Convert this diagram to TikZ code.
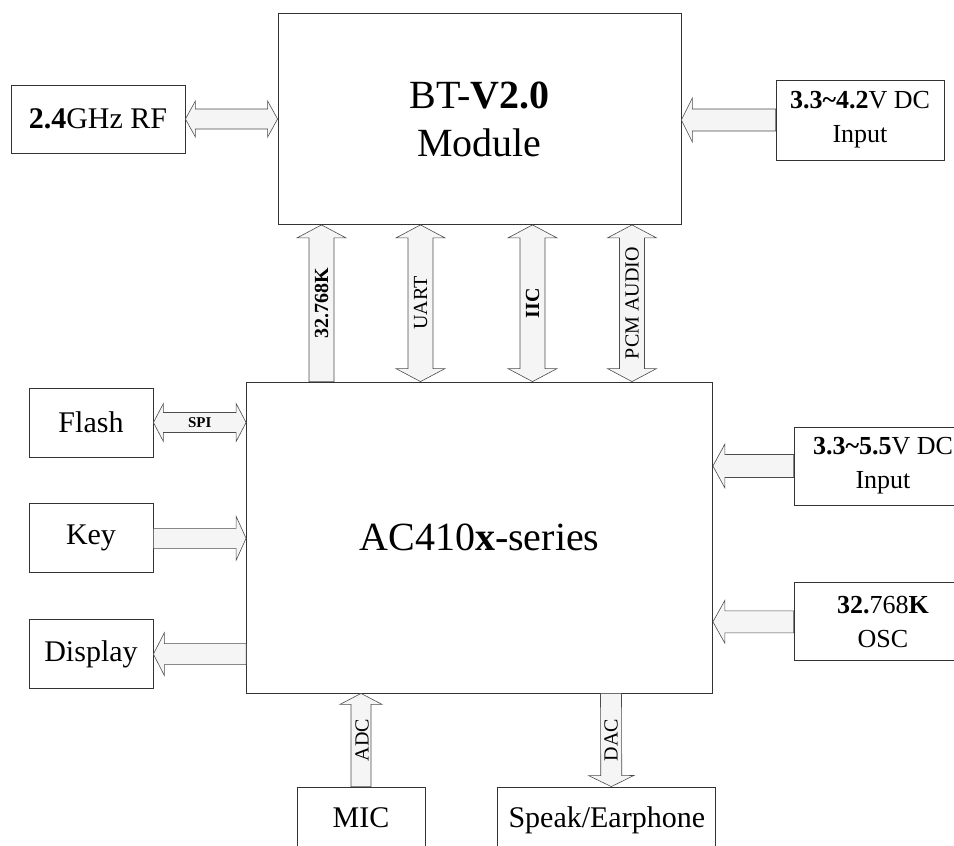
\documentclass[tikz,border=0pt]{standalone}
\usepackage{fontspec}
\setmainfont{Liberation Serif}
\usepackage{tikz}
\usetikzlibrary{calc, positioning}
\tikzstyle{unit} = [rectangle, draw=black!80, line width=0.8pt, inner sep=0pt, text centered, align=center]
\tikzstyle{big} = [unit, font=\fontsize{40}{48}\selectfont]
\tikzstyle{mid} = [unit, font=\fontsize{30}{36}\selectfont]
\tikzstyle{pwr} = [unit, font=\fontsize{26}{34}\selectfont]
\tikzstyle{bus} = [draw=black!70, line width=0.6pt, fill=black!4]
\tikzstyle{vlbl} = [rotate=90, inner sep=0pt, font=\fontsize{20}{24}\selectfont]
\tikzset{
  blk w/.store in=\blkw, blk h/.store in=\blkh, blk l/.store in=\blkl,
  blk w=10pt, blk h=20pt, blk l=11pt,
  % block arrow, head at the target
  sblk/.style={to path={
    -- ($(\tikztostart)!\blkw!90:(\tikztotarget)$)
    -- ($(\tikztotarget)!\blkl!(\tikztostart) + (\tikztostart)!\blkw!90:(\tikztotarget) - (\tikztostart)$)
    -- ($(\tikztotarget)!\blkl!(\tikztostart) + (\tikztostart)!\blkh!90:(\tikztotarget) - (\tikztostart)$)
    -- (\tikztotarget)
    -- ($(\tikztotarget)!\blkl!(\tikztostart) + (\tikztostart)!\blkh!-90:(\tikztotarget) - (\tikztostart)$)
    -- ($(\tikztotarget)!\blkl!(\tikztostart) + (\tikztostart)!\blkw!-90:(\tikztotarget) - (\tikztostart)$)
    -- ($(\tikztostart)!\blkw!-90:(\tikztotarget)$)
    -- cycle}},
  % block arrow, heads at both ends
  dblk/.style={to path={
    -- ($(\tikztostart)!\blkl!(\tikztotarget) + (\tikztostart)!\blkh!90:(\tikztotarget) - (\tikztostart)$)
    -- ($(\tikztostart)!\blkl!(\tikztotarget) + (\tikztostart)!\blkw!90:(\tikztotarget) - (\tikztostart)$)
    -- ($(\tikztotarget)!\blkl!(\tikztostart) + (\tikztostart)!\blkw!90:(\tikztotarget) - (\tikztostart)$)
    -- ($(\tikztotarget)!\blkl!(\tikztostart) + (\tikztostart)!\blkh!90:(\tikztotarget) - (\tikztostart)$)
    -- (\tikztotarget)
    -- ($(\tikztotarget)!\blkl!(\tikztostart) + (\tikztostart)!\blkh!-90:(\tikztotarget) - (\tikztostart)$)
    -- ($(\tikztotarget)!\blkl!(\tikztostart) + (\tikztostart)!\blkw!-90:(\tikztotarget) - (\tikztostart)$)
    -- ($(\tikztostart)!\blkl!(\tikztotarget) + (\tikztostart)!\blkw!-90:(\tikztotarget) - (\tikztostart)$)
    -- ($(\tikztostart)!\blkl!(\tikztotarget) + (\tikztostart)!\blkh!-90:(\tikztotarget) - (\tikztostart)$)
    -- cycle}}
}
\begin{document}
\begin{tikzpicture}[x=1pt, y=-1pt]
  \useasboundingbox (0,0) rectangle (954,846);
  % Top row (bluetooth module)
  \node[big, minimum width=403pt, minimum height=211pt] (bt) at (479.5,119) {BT-\textbf{V2.0}\\Module};
  \node[mid, minimum width=174pt, minimum height=68pt] (rf) at (98,119) {\textbf{2.4}GHz RF};
  \node[pwr, minimum width=168pt, minimum height=80pt] (vin1) at (860,120) {\textbf{3.3\textasciitilde4.2}V DC\\Input};
  % Main chip
  \node[big, minimum width=466pt, minimum height=311pt] (ac) at (479.5,537.5) {AC410\textbf{x}-series};
  % Left column
  \node[mid, minimum width=124pt, minimum height=69pt] (flash) at (91,422.5) {Flash};
  \node[mid, minimum width=124pt, minimum height=69pt, below=46pt of flash] (key) {Key};
  \node[mid, minimum width=124pt, minimum height=69pt, below=46pt of key] (disp) {Display};
  % Right column
  \node[pwr, minimum width=178pt, minimum height=78pt] (vin2) at (883,466) {\textbf{3.3\textasciitilde5.5}V DC\\Input};
  \node[pwr, minimum width=178pt, minimum height=78pt, below=77pt of vin2] (osc) {\textbf{32.}768\textbf{K}\\OSC};
  % Bottom row
  \node[mid, minimum width=128pt, minimum height=61pt] (mic) at (361,817.5) {MIC};
  \node[mid, minimum width=218pt, minimum height=61pt, text depth=0pt, right=72pt of mic] (spk) {Speak/Earphone};
  % Links of the module
  \draw[bus, blk w=10pt, blk h=18pt, blk l=10pt] (rf.east) to[dblk] (bt.west);
  \draw[bus, blk w=11pt, blk h=22pt, blk l=11pt] (vin1.west) to[sblk] (bt.east |- vin1.west);
  \draw[bus, blk w=12.5pt, blk h=24.5pt, blk l=13pt] ([xshift=-158pt]ac.north) to[sblk] ([xshift=-158pt]bt.south);
  \draw[bus, blk w=12.5pt, blk h=24.5pt, blk l=13pt] ([xshift=-59pt]ac.north) to[dblk] ([xshift=-59pt]bt.south);
  \draw[bus, blk w=12.5pt, blk h=24.5pt, blk l=13pt] ([xshift=53pt]ac.north) to[dblk] ([xshift=53pt]bt.south);
  \draw[bus, blk w=12.5pt, blk h=24.5pt, blk l=13pt] ([xshift=152.5pt]ac.north) to[dblk] ([xshift=152.5pt]bt.south);
  \node[vlbl] (lclk) at ($(bt.south)!.5!(ac.north) + (-158,0)$) {\textbf{32.768K}};
  \node[vlbl] (luart) at ($(bt.south)!.5!(ac.north) + (-59,0)$) {UART};
  \node[vlbl] (liic) at ($(bt.south)!.5!(ac.north) + (53,0)$) {\textbf{IIC}};
  \node[vlbl] (lpcm) at ($(bt.south)!.5!(ac.north) + (152.5,0)$) {PCM AUDIO};
  % Links of the chip
  \draw[bus, blk w=10pt, blk h=19pt, blk l=10pt] (flash.east) to[dblk] (ac.west |- flash.east);
  \node[inner sep=0pt, font=\bfseries\fontsize{15}{18}\selectfont] (lspi) at ($(flash.east)!.5!(ac.west |- flash.east)$) {SPI};
  \draw[bus, blk w=10pt, blk h=22pt, blk l=10pt] (key.east) to[sblk] (ac.west |- key.east);
  \draw[bus, blk w=10.5pt, blk h=21.5pt, blk l=11pt] (ac.west |- disp.east) to[sblk] (disp.east);
  \draw[bus, blk w=11.5pt, blk h=22pt, blk l=12pt] (vin2.west) to[sblk] (ac.east |- vin2.west);
  \draw[bus, blk w=11pt, blk h=21.5pt, blk l=12pt] (osc.west) to[sblk] (ac.east |- osc.west);
  \draw[bus, blk w=10pt, blk h=21pt, blk l=11pt] (mic.north) to[sblk] (ac.south -| mic.north);
  \draw[bus, blk w=10.5pt, blk h=22.5pt, blk l=11pt] ([xshift=131.5pt]ac.south) to[sblk] ([xshift=4.5pt]spk.north);
  \node[vlbl] (ladc) at ($(ac.south -| mic.north)!.5!(mic.north) + (1,0)$) {ADC};
  \node[vlbl] (ldac) at ($(ac.south)!.5!(ac.south |- spk.north) + (131.5,0)$) {DAC};
\end{tikzpicture}
\end{document}
